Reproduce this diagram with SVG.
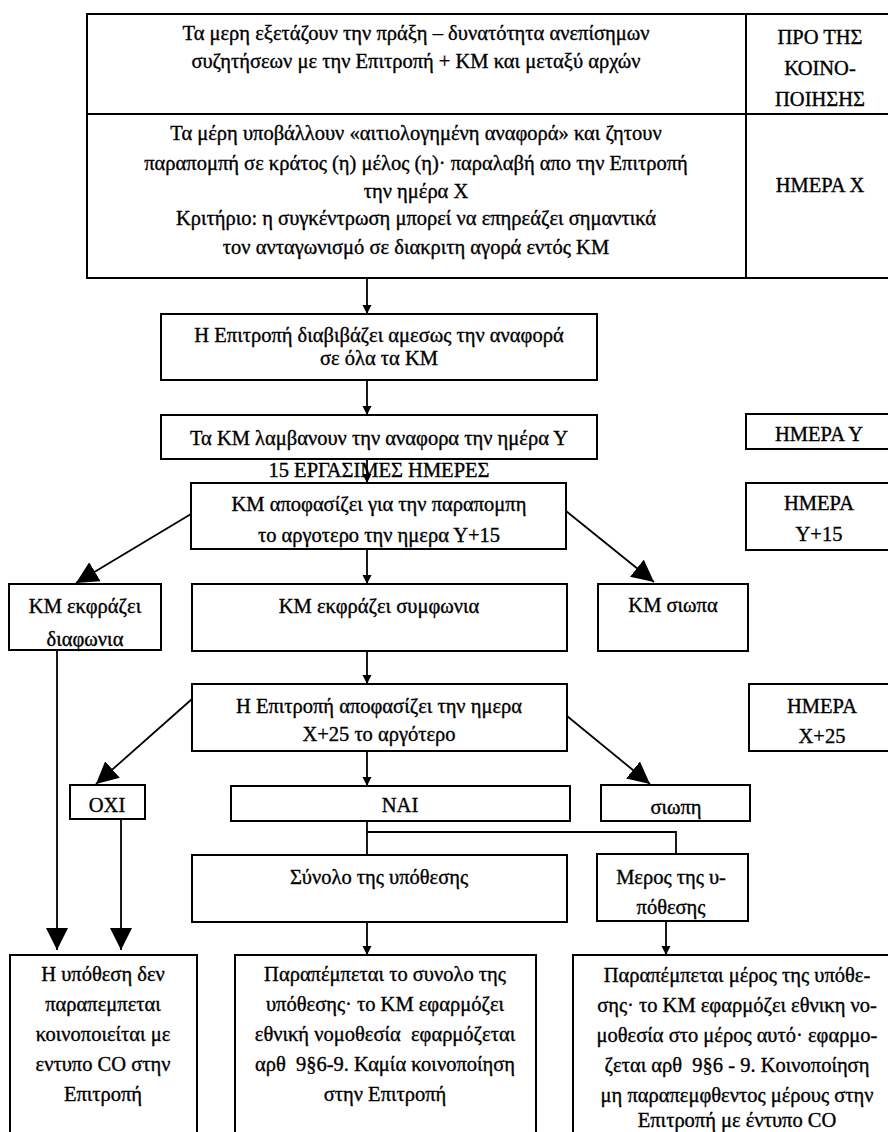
<svg xmlns="http://www.w3.org/2000/svg" width="888" height="1132" viewBox="0 0 888 1132">
<style>
.b{fill:#fff;stroke:#000;stroke-width:2}
.t{font-family:"Liberation Serif","Times New Roman",serif;font-size:20.5px;fill:#000;stroke:#000;stroke-width:0.35;text-anchor:middle;white-space:pre}
.c{fill:none;stroke:#000;stroke-width:1.8}
</style>
<defs>
<marker id="s" viewBox="0 0 10 10" refX="10" refY="5" markerWidth="9" markerHeight="10" markerUnits="userSpaceOnUse" orient="auto"><path d="M0,0 L10,5 L0,10 z" fill="#000"/></marker>
<marker id="L" viewBox="0 0 10 10" refX="10" refY="5" markerWidth="22" markerHeight="22" markerUnits="userSpaceOnUse" orient="auto"><path d="M0,0 L10,5 L0,10 z" fill="#000"/></marker>
</defs>
<rect width="888" height="1132" fill="#fff"/>

<g id="table">
<rect class="b" x="87" y="14" width="810" height="264"/>
<line x1="87" y1="114" x2="897" y2="114" stroke="#000" stroke-width="2"/>
<line x1="746" y1="14" x2="746" y2="278" stroke="#000" stroke-width="2"/>
<text class="t" x="416" y="40">Τα μερη εξετάζουν την πράξη – δυνατότητα ανεπίσημων</text>
<text class="t" x="416" y="68">συζητήσεων με την Επιτροπή + ΚΜ και μεταξύ αρχών</text>
<text class="t" x="820" y="44">ΠΡΟ ΤΗΣ</text>
<text class="t" x="820" y="75">ΚΟΙΝΟ-</text>
<text class="t" x="820" y="106">ΠΟΙΗΣΗΣ</text>
<text class="t" x="416" y="140">Τα μέρη υποβάλλουν «αιτιολογημένη αναφορά» και ζητουν</text>
<text class="t" x="416" y="170">παραπομπή σε κράτος (η) μέλος (η)· παραλαβή απο την Επιτροπή</text>
<text class="t" x="416" y="198">την ημέρα X</text>
<text class="t" x="416" y="225">Κριτήριο: η συγκέντρωση μπορεί να επηρεάζει σημαντικά</text>
<text class="t" x="416" y="254">τον ανταγωνισμό σε διακριτη αγορά εντός ΚΜ</text>
<text class="t" x="820" y="192">ΗΜΕΡΑ X</text>
</g>

<g id="n-diabibazei">
<rect class="b" x="161" y="314" width="436" height="66"/>
<text class="t" x="379" y="342">Η Επιτροπή διαβιβάζει αμεσως την αναφορά</text>
<text class="t" x="379" y="365">σε όλα τα ΚΜ</text>
</g>

<g id="n-lambanoun">
<rect class="b" x="161" y="415" width="436" height="44"/>
<text class="t" x="379" y="445">Τα ΚΜ λαμβανουν την αναφορα την ημέρα Υ</text>
</g>

<g id="n-15">
<text class="t" x="379" y="477">15 ΕΡΓΑΣΙΜΕΣ ΗΜΕΡΕΣ</text>
</g>

<g id="n-apofasizei">
<rect class="b" x="191" y="483" width="375" height="66"/>
<text class="t" x="379" y="511">ΚΜ αποφασίζει για την παραπομπη</text>
<text class="t" x="379" y="542">το αργοτερο την ημερα Υ+15</text>
</g>

<g id="n-diafonia">
<rect class="b" x="9" y="584" width="152" height="66"/>
<text class="t" x="85" y="613">ΚΜ εκφράζει</text>
<text class="t" x="85" y="646">διαφωνια</text>
</g>

<g id="n-symfonia">
<rect class="b" x="192" y="584" width="375" height="67"/>
<text class="t" x="379" y="613">ΚΜ εκφράζει συμφωνια</text>
</g>

<g id="n-siopa">
<rect class="b" x="598" y="584" width="150" height="67"/>
<text class="t" x="673" y="612">ΚΜ σιωπα</text>
</g>

<g id="n-hmera-y">
<rect class="b" x="746" y="414" width="150" height="35"/>
<text class="t" x="819" y="441">ΗΜΕΡΑ Υ</text>
</g>

<g id="n-hmera-y15">
<rect class="b" x="746" y="483" width="150" height="67"/>
<text class="t" x="819" y="510">ΗΜΕΡΑ</text>
<text class="t" x="819" y="541">Υ+15</text>
</g>

<g id="n-epitropi-apof">
<rect class="b" x="192" y="684" width="375" height="67"/>
<text class="t" x="379" y="713">Η Επιτροπή αποφασίζει την ημερα</text>
<text class="t" x="379" y="741">X+25 το αργότερο</text>
</g>

<g id="n-hmera-x25">
<rect class="b" x="749" y="684" width="150" height="67"/>
<text class="t" x="822" y="713">ΗΜΕΡΑ</text>
<text class="t" x="822" y="743">X+25</text>
</g>

<g id="n-oxi">
<rect class="b" x="70" y="785" width="75" height="34"/>
<text class="t" x="107" y="812">ΟΧΙ</text>
</g>

<g id="n-nai">
<rect class="b" x="231" y="786" width="339" height="35"/>
<text class="t" x="400" y="812">ΝΑΙ</text>
</g>

<g id="n-siopi">
<rect class="b" x="601" y="785" width="149" height="36"/>
<text class="t" x="676" y="814">σιωπη</text>
</g>

<g id="n-synolo">
<rect class="b" x="192" y="855" width="375" height="67"/>
<text class="t" x="379" y="884">Σύνολο της υπόθεσης</text>
</g>

<g id="n-meros">
<rect class="b" x="597" y="854" width="151" height="67"/>
<text class="t" x="671" y="884">Μερος της υ-</text>
<text class="t" x="671" y="914">πόθεσης</text>
</g>

<g id="n-out1">
<rect class="b" x="10" y="955" width="187" height="190"/>
<text class="t" x="103" y="981">Η υπόθεση δεν</text>
<text class="t" x="103" y="1011">παραπεμπεται</text>
<text class="t" x="103" y="1041">κοινοποιείται με</text>
<text class="t" x="103" y="1071">εντυπο CO στην</text>
<text class="t" x="103" y="1101">Επιτροπή</text>
</g>

<g id="n-out2">
<rect class="b" x="235" y="955" width="301" height="190"/>
<text class="t" x="385" y="981">Παραπέμπεται το συνολο της</text>
<text class="t" x="385" y="1011">υπόθεσης· το ΚΜ εφαρμόζει</text>
<text class="t" x="385" y="1041">εθνική νομοθεσία  εφαρμόζεται</text>
<text class="t" x="385" y="1071">αρθ  9§6-9. Καμία κοινοποίηση</text>
<text class="t" x="385" y="1101">στην Επιτροπή</text>
</g>

<g id="n-out3">
<rect class="b" x="573" y="955" width="330" height="190"/>
<text class="t" x="737" y="982">Παραπέμπεται μέρος της υπόθε-</text>
<text class="t" x="737" y="1012">σης· το ΚΜ εφαρμόζει εθνικη νο-</text>
<text class="t" x="737" y="1042">μοθεσία στο μέρος αυτό· εφαρμο-</text>
<text class="t" x="737" y="1072">ζεται αρθ  9§6 - 9. Κοινοποίηση</text>
<text class="t" x="737" y="1102">μη παραπεμφθεντος μέρους στην</text>
<text class="t" x="737" y="1127">Επιτροπή με έντυπο CO</text>
</g>

<g id="connectors">
<line class="c" x1="367" y1="278" x2="367" y2="314" marker-end="url(#s)"/>
<line class="c" x1="367" y1="380" x2="367" y2="415" marker-end="url(#s)"/>
<line class="c" x1="367" y1="459" x2="367" y2="483" marker-end="url(#s)"/>
<line class="c" x1="367" y1="549" x2="367" y2="584" marker-end="url(#s)"/>
<line class="c" x1="367" y1="651" x2="367" y2="684" marker-end="url(#s)"/>
<line class="c" x1="367" y1="751" x2="367" y2="786" marker-end="url(#s)"/>
<line class="c" x1="191" y1="514" x2="76" y2="583" marker-end="url(#L)"/>
<line class="c" x1="566" y1="511" x2="654" y2="582" marker-end="url(#L)"/>
<line class="c" x1="192" y1="699" x2="96" y2="784" marker-end="url(#L)"/>
<line class="c" x1="567" y1="716" x2="650" y2="784" marker-end="url(#L)"/>
<line class="c" x1="57" y1="650" x2="57" y2="950" marker-end="url(#L)"/>
<line class="c" x1="121" y1="819" x2="121" y2="950" marker-end="url(#L)"/>
<polyline class="c" points="367,821 367,855"/>
<polyline class="c" points="367,832 676,832 676,854"/>
<line class="c" x1="367" y1="922" x2="367" y2="955" marker-end="url(#s)"/>
<line class="c" x1="666" y1="921" x2="666" y2="955" marker-end="url(#s)"/>
</g>
</svg>
